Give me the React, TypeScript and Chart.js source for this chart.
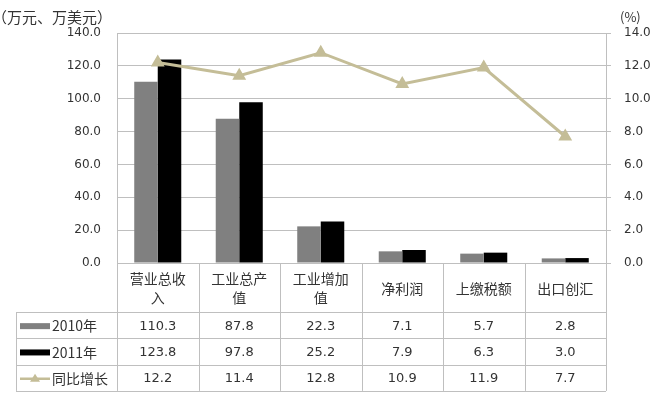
import React, { useEffect, useRef } from "react";
import { Chart, registerables } from "chart.js";

Chart.register(...registerables);

const categories: (string | string[])[] = [
  ["营业总收", "入"],
  ["工业总产", "值"],
  ["工业增加", "值"],
  "净利润",
  "上缴税额",
  "出口创汇",
];
const values2010 = [110.3, 87.8, 22.3, 7.1, 5.7, 2.8];
const values2011 = [123.8, 97.8, 25.2, 7.9, 6.3, 3.0];
const growth = [12.2, 11.4, 12.8, 10.9, 11.9, 7.7];
const seriesNames = ["2010年", "2011年", "同比增长"];
const leftUnit = "（万元、万美元）";
const rightUnit = "(%)";

const GRAY = "#808080";
const BLACK = "#000000";
const TAN = "#C4BD97";
const GRID = "#BFBFBF";
const TEXT = "#333333";
const FONT = '"DejaVu Sans", "Noto Sans CJK SC", sans-serif';
const CJK = '"Noto Sans CJK SC", "DejaVu Sans", sans-serif';

const tablePlugin = {
  id: "dataTable",
  afterDraw(chart: any) {
    const ctx = chart.ctx as CanvasRenderingContext2D;
    const x = chart.scales.x;
    const area = chart.chartArea;
    const n = categories.length;
    const left = area.left;
    const right = area.right;
    const colW = (right - left) / n;
    const headerBottom = x.bottom;
    const rowH = 26.3;
    const tableLeft = 16;
    const rows = [values2010, values2011, growth];
    const tableBottom = headerBottom + rowH * rows.length;

    ctx.save();
    ctx.strokeStyle = GRID;
    ctx.lineWidth = 1;
    ctx.beginPath();
    ctx.moveTo(left, area.bottom + 0.5);
    ctx.lineTo(right, area.bottom + 0.5);
    for (let r = 0; r <= rows.length; r++) {
      const yy = Math.round(headerBottom + r * rowH) + 0.5;
      ctx.moveTo(tableLeft, yy);
      ctx.lineTo(right, yy);
    }
    for (let c = 0; c <= n; c++) {
      const xx = Math.round(left + c * colW) + 0.5;
      ctx.moveTo(xx, area.bottom);
      ctx.lineTo(xx, tableBottom);
    }
    ctx.moveTo(tableLeft + 0.5, headerBottom);
    ctx.lineTo(tableLeft + 0.5, tableBottom);
    ctx.stroke();

    ctx.fillStyle = TEXT;
    ctx.textAlign = "center";
    ctx.textBaseline = "middle";
    ctx.font = `13px ${FONT}`;
    rows.forEach((vals, r) => {
      const yy = headerBottom + r * rowH + rowH / 2 + 1;
      vals.forEach((v, i) => {
        const cx = x.getPixelForValue(i);
        ctx.fillText(v.toFixed(1), cx, yy);
      });
    });

    const keyX0 = 20;
    const keyX1 = 50;
    rows.forEach((_, r) => {
      const yy = headerBottom + r * rowH + rowH / 2 + 1;
      if (r === 0 || r === 1) {
        ctx.fillStyle = r === 0 ? GRAY : BLACK;
        ctx.fillRect(keyX0, yy - 3, keyX1 - keyX0, 6);
      } else {
        ctx.strokeStyle = TAN;
        ctx.lineWidth = 2.5;
        ctx.beginPath();
        ctx.moveTo(keyX0, yy);
        ctx.lineTo(keyX1, yy);
        ctx.stroke();
        ctx.fillStyle = TAN;
        ctx.beginPath();
        const cx = (keyX0 + keyX1) / 2;
        ctx.moveTo(cx, yy - 5);
        ctx.lineTo(cx + 5, yy + 3);
        ctx.lineTo(cx - 5, yy + 3);
        ctx.closePath();
        ctx.fill();
      }
      ctx.fillStyle = TEXT;
      ctx.textAlign = "left";
      ctx.font = `14px ${CJK}`;
      ctx.fillText(seriesNames[r], keyX1 + 2, yy);
    });

    ctx.font = `15px ${CJK}`;
    ctx.textAlign = "left";
    ctx.fillStyle = TEXT;
    ctx.fillText(leftUnit, -8, 17);
    ctx.font = `13px ${CJK}`;
    ctx.fillText(rightUnit, 620, 17);
    ctx.restore();
  },
};

export default function App() {
  const ref = useRef<HTMLCanvasElement | null>(null);
  useEffect(() => {
    if (!ref.current) return;
    const chart = new Chart(ref.current, {
      type: "bar",
      data: {
        labels: categories as any,
        datasets: [
          {
            type: "line" as const,
            label: seriesNames[2],
            data: growth,
            yAxisID: "y1",
            borderColor: TAN,
            backgroundColor: TAN,
            borderWidth: 3,
            pointStyle: "triangle",
            pointRadius: 5,
            pointBackgroundColor: TAN,
            pointBorderColor: TAN,
            order: 0,
          },
          {
            label: seriesNames[0],
            data: values2010,
            backgroundColor: GRAY,
            yAxisID: "y",
            categoryPercentage: 0.577,
            barPercentage: 1,
            order: 1,
          },
          {
            label: seriesNames[1],
            data: values2011,
            backgroundColor: BLACK,
            yAxisID: "y",
            categoryPercentage: 0.577,
            barPercentage: 1,
            order: 1,
          },
        ] as any,
      },
      options: {
        animation: false,
        responsive: false,
        layout: { padding: { top: 33, bottom: 87, left: 0, right: 0 } },
        plugins: { legend: { display: false }, tooltip: { enabled: false } },
        scales: {
          x: {
            grid: { display: false, drawTicks: false },
            border: { display: false },
            ticks: {
              color: TEXT,
              font: { family: CJK, size: 14, lineHeight: 1.35 },
              padding: 16,
              crossAlign: "center",
              maxRotation: 0,
              autoSkip: false,
            },
            afterFit: (s: any) => {
              s.height = 49;
            },
          },
          y: {
            position: "left",
            min: 0,
            max: 140,
            grid: { color: GRID, drawTicks: false },
            border: { display: true, color: GRID },
            ticks: {
              stepSize: 20,
              color: TEXT,
              padding: 16,
              font: { family: FONT, size: 12 },
              callback: (v: any) => Number(v).toFixed(1),
            },
            afterFit: (s: any) => {
              s.width = 117;
            },
          },
          y1: {
            position: "right",
            min: 0,
            max: 14,
            grid: { drawOnChartArea: false, color: GRID, tickLength: 5 },
            border: { display: true, color: GRID },
            ticks: {
              stepSize: 2,
              color: TEXT,
              padding: 13,
              font: { family: FONT, size: 12 },
              callback: (v: any) => Number(v).toFixed(1),
            },
            afterFit: (s: any) => {
              s.width = 52;
            },
          },
        },
      },
      plugins: [tablePlugin],
    });
    return () => chart.destroy();
  }, []);
  return (
    <div style={{ position: "fixed", left: 0, top: 0, width: 658, height: 399, background: "#fff" }}>
      <canvas ref={ref} width={658} height={399} style={{ width: 658, height: 399 }} />
    </div>
  );
}
